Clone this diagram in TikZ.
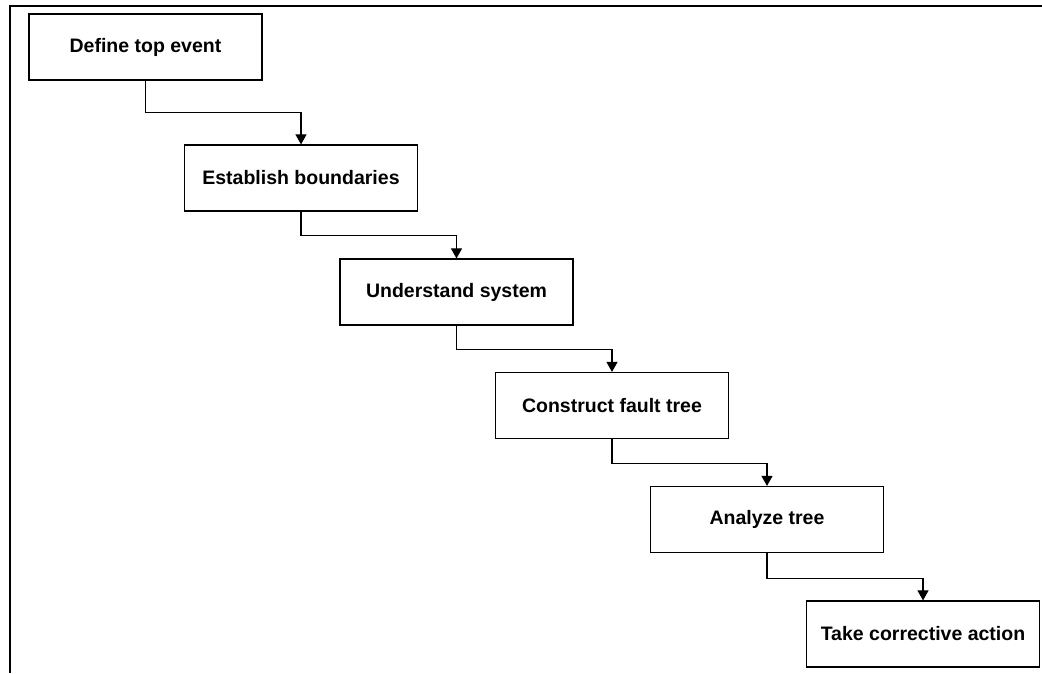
\documentclass[tikz,border=0pt]{standalone}
\usepackage{fontspec}
\setmainfont{Liberation Sans}
\usetikzlibrary{arrows.meta}
\begin{document}
\begin{tikzpicture}[x=1pt,y=-1pt,
  stepbox/.style={draw=black, line width=1.2pt, fill=white,
    minimum width=233pt, minimum height=66pt, inner sep=0pt,
    font=\fontsize{19.5pt}{22pt}\selectfont\bfseries},
  flow/.style={draw=black, line width=1.1pt,
    -{Triangle[width=11pt,length=10pt]}},
  frameline/.style={draw=black, line width=2pt}]
  \useasboundingbox (0,0) rectangle (1042,673);
  % open frame: top and left edges only
  \coordinate (fbl) at (10,673);
  \coordinate (ftl) at (10,6);
  \coordinate (ftr) at (1042,6);
  \draw[frameline] (fbl) -- (ftl) -- (ftr);
  % process steps
  \node[stepbox] (b1) at (145.5,47)  {Define top event};
  \node[stepbox] (b2) at (301,178)   {Establish boundaries};
  \node[stepbox] (b3) at (456.5,292) {Understand system};
  \node[stepbox] (b4) at (612,405.5) {Construct fault tree};
  \node[stepbox] (b5) at (767,519.5) {Analyze tree};
  \node[stepbox] (b6) at (923,634)   {Take corrective action};
  % stepped connectors
  \draw[flow] (b1.south) -- ++(0,32) -| (b2.north);
  \draw[flow] (b2.south) -- ++(0,24) -| (b3.north);
  \draw[flow] (b3.south) -- ++(0,24) -| (b4.north);
  \draw[flow] (b4.south) -- ++(0,24) -| (b5.north);
  \draw[flow] (b5.south) -- ++(0,25) -| (b6.north);
\end{tikzpicture}
\end{document}
